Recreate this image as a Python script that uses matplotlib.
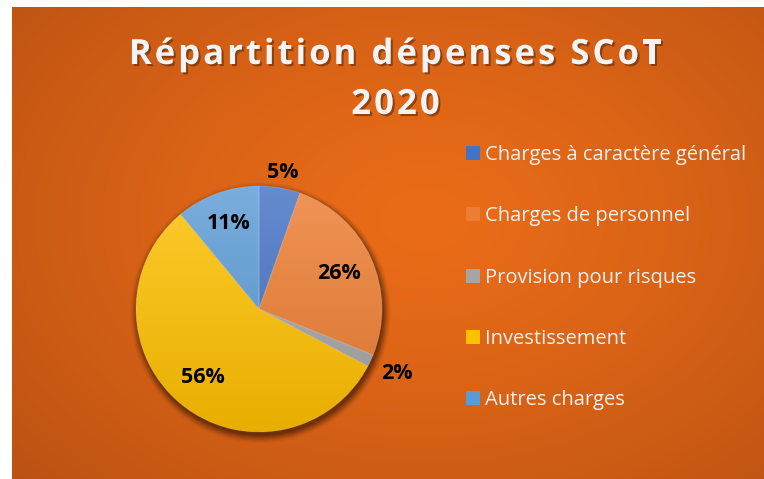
import numpy as np
import matplotlib.pyplot as plt
import matplotlib.patheffects as pe
from matplotlib.patches import Circle
from matplotlib.colors import to_rgb
from matplotlib.font_manager import FontProperties

categories = ["Charges à caractère général", "Charges de personnel",
              "Provision pour risques", "Investissement", "Autres charges"]
values = [5.4, 25.7, 1.6, 56.3, 11.0]
colors = ["#4472C4", "#ED7D31", "#A5A5A5", "#FFC000", "#5B9BD5"]
label_r = [1.13, 0.71, 1.24, 0.72, 0.74]  # label distance per slice
title_lines = ["Répartition dépenses SCoT", "2020"]

W, H = 764, 479
fig = plt.figure(figsize=(W / 100, H / 100), dpi=100)
fig.patch.set_facecolor("white")

# radial orange background
bg = fig.add_axes([12 / W, 0, (W - 12) / W, (H - 7) / H])
bg.set_axis_off()
yy, xx = np.mgrid[0:1:300j, 0:1:480j]
d = np.sqrt(((xx - 0.55) / 0.75) ** 2 + ((yy - 0.45) / 0.85) ** 2)
d = np.clip(d / d.max(), 0, 1)
c_in = np.array([0xEA, 0x6C, 0x18]) / 255
c_out = np.array([0xBB, 0x52, 0x13]) / 255
img = c_in[None, None, :] * (1 - d[..., None] ** 1.3) + c_out[None, None, :] * d[..., None] ** 1.3
bg.imshow(img, aspect="auto", extent=(0, 1, 0, 1))

# pie
cx, cy, R = 259, H - 309, 123
half = 150
ax = fig.add_axes([(cx - half) / W, (cy - half) / H, 2 * half / W, 2 * half / H])
lim = half / R

# soft shadow
for i, a in enumerate(np.linspace(0.22, 0.04, 7)):
    ax.add_patch(Circle((0.012, -0.03), 1.0 + 0.01 * i, color="#3a1805", alpha=a, lw=0, zorder=0))

wedges, _ = ax.pie(values, colors=colors, startangle=90, counterclock=False,
                   radius=1.0, wedgeprops=dict(linewidth=0.6, edgecolor=(1, 1, 1, 0.2)))

# vertical gradient inside each slice
t = np.linspace(0, 1, 200)[:, None, None]
for w, c in zip(wedges, colors):
    base = np.array(to_rgb(c))
    top = base + (1 - base) * 0.18
    bot = base * 0.91
    grad = top * (1 - t) + bot * t
    grad = np.repeat(grad, 2, axis=1)
    im = ax.imshow(grad, extent=(-1, 1, -1, 1), aspect="auto", zorder=2)
    im.set_clip_path(w)
    w.set_zorder(3)
    w.set_facecolor("none")

ax.set_xlim(-lim, lim)
ax.set_ylim(-lim, lim)
ax.set_aspect("equal")
ax.set_axis_off()

for w, v, r in zip(wedges, values, label_r):
    ang = np.radians((w.theta1 + w.theta2) / 2)
    ax.text(r * np.cos(ang), r * np.sin(ang), f"{v:.0f}%", ha="center", va="center",
            fontsize=15.5, fontweight="bold", color="black", family="Open Sans", zorder=5)

# title, drawn char by char to get the wide letter spacing
tprop = FontProperties(family="Open Sans", weight="bold", size=25)
renderer = fig.canvas.get_renderer()
spacing = 3.0
line_y = [H - 55, H - 105]
for line, yc in zip(title_lines, line_y):
    widths = [renderer.get_text_width_height_descent(ch, tprop, ismath=False)[0] for ch in line]
    total = sum(widths) + spacing * (len(line) - 1)
    x = 395.5 - total / 2
    for ch, wd in zip(line, widths):
        fig.text(x / W, yc / H, ch, ha="left", va="center", fontproperties=tprop,
                 color="#F4F4F4",
                 path_effects=[pe.SimplePatchShadow(offset=(1.5, -1.5), shadow_rgbFace="#5a2a08",
                                                    alpha=0.6), pe.Normal()])
        x += wd + spacing

# legend
leg = fig.legend(wedges, categories, loc="upper left", bbox_to_anchor=(458 / W, 1 - 137 / H),
                 frameon=False, labelspacing=2.05, handlelength=0.7, handleheight=0.7,
                 handletextpad=0.25, borderaxespad=0,
                 prop={"family": "Open Sans", "size": 14.5})
for t_, h, c in zip(leg.get_texts(), leg.legend_handles, colors):
    t_.set_color("#F0F0F0")
    h.set_facecolor(c)
    h.set_edgecolor("none")

fig.savefig("out.png", dpi=100, facecolor=fig.get_facecolor())
